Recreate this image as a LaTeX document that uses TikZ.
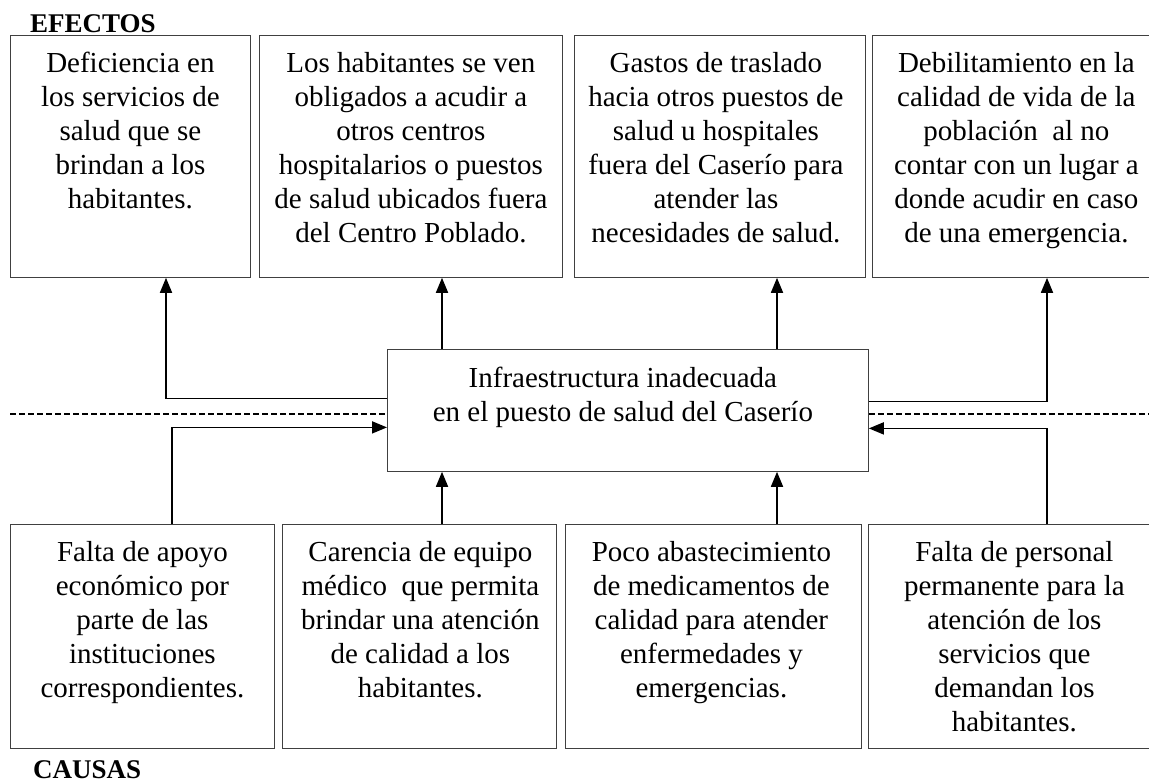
\documentclass[tikz,border=0pt]{standalone}
\usepackage{fontspec}
\setmainfont{Liberation Serif}
\usetikzlibrary{arrows.meta,calc}
\begin{document}
\begin{tikzpicture}[x=1pt,y=-1pt,
  box/.style={draw=black!75,line width=0.8pt,inner sep=0pt,anchor=north west},
  txt/.style={align=center,inner sep=0pt,anchor=north,font=\fontsize{29}{34}\selectfont},
  arr/.style={line width=1.7pt,-{Triangle[width=12pt,length=15pt]}},
  lbl/.style={font=\fontsize{27}{30}\selectfont\bfseries,anchor=base west,inner sep=0pt}]
\useasboundingbox (0,0) rectangle (1149,782);
\clip (0,0) rectangle (1149,782);
% effects boxes
\node[box,minimum width=240,minimum height=242] (e1) at (10,35) {};
\node[box,minimum width=303,minimum height=242] (e2) at (259,35) {};
\node[box,minimum width=291,minimum height=242] (e3) at (574,35) {};
\node[box,minimum width=290,minimum height=242] (e4) at (872,35) {};
\node[txt] (t1) at ([yshift=-17pt]e1.north) {Deficiencia en\\los servicios de\\salud que se\\brindan a los\\habitantes.};
\node[txt] (t2) at ([yshift=-17pt]e2.north) {Los habitantes se ven\\obligados a acudir a\\otros centros\\hospitalarios o puestos\\de salud ubicados fuera\\del Centro Poblado.};
\node[txt] (t3) at ([yshift=-17pt,xshift=-4pt]e3.north) {Gastos de traslado\\hacia otros puestos de\\salud u hospitales\\fuera del Caserío para\\atender las\\necesidades de salud.};
\node[txt] (t4) at ([yshift=-17pt,xshift=-1pt]e4.north) {Debilitamiento en la\\calidad de vida de la\\población\ \ al no\\contar con un lugar a\\donde acudir en caso\\de una emergencia.};
% center
\node[box,minimum width=481,minimum height=122] (c) at (387,349) {};
\node[txt] (tc) at ([yshift=-18pt,xshift=-5pt]c.north) {Infraestructura inadecuada\\en el puesto de salud del Caserío};
% causes boxes
\node[box,minimum width=264,minimum height=224] (k1) at (10,524) {};
\node[box,minimum width=274,minimum height=224] (k2) at (282,524) {};
\node[box,minimum width=296,minimum height=224] (k3) at (565,524) {};
\node[box,minimum width=292,minimum height=224] (k4) at (868,524) {};
\node[txt] (s1) at ([yshift=-17pt]k1.north) {Falta de apoyo\\económico por\\parte de las\\instituciones\\correspondientes.};
\node[txt] (s2) at ([yshift=-17pt,xshift=1pt]k2.north) {Carencia de equipo\\médico\ \ que permita\\brindar una atención\\de calidad a los\\habitantes.};
\node[txt] (s3) at ([yshift=-17pt,xshift=-2pt]k3.north) {Poco abastecimiento\\de medicamentos de\\calidad para atender\\enfermedades y\\emergencias.};
\node[txt] (s4) at ([yshift=-17pt]k4.north) {Falta de personal\\permanente para la\\atención de los\\servicios que\\demandan los\\habitantes.};
% labels
\node[lbl] (ef) at (30,32) {EFECTOS};
\node[lbl] (ca) at (33,778) {CAUSAS};
% dashed divider
\coordinate (dl) at (10,414);
\coordinate (dr) at (1149,414);
\draw[dashed,dash pattern=on 6pt off 3pt,line width=1.3pt] (dl) -- (c.west |- dl);
\draw[dashed,dash pattern=on 6pt off 3pt,line width=1.3pt] (c.east |- dr) -- (dr);
% connector columns
\coordinate (xa) at (166,0);
\coordinate (xb) at (442,0);
\coordinate (xc) at (777,0);
\coordinate (xd) at (1047,0);
\coordinate (xe) at (172,0);
% effects arrows
\draw[arr] ([yshift=12pt]c.west) -| (e1.south -| xa);
\draw[arr] (c.north -| xb) -- (e2.south -| xb);
\draw[arr] (c.north -| xc) -- (e3.south -| xc);
\draw[arr] ([yshift=9pt]c.east) -| (e4.south -| xd);
% causes arrows
\draw[arr] (k1.north -| xe) |- ([yshift=-17pt]c.west);
\draw[arr] (k2.north -| xb) -- (c.south -| xb);
\draw[arr] (k3.north -| xc) -- (c.south -| xc);
\draw[arr] (k4.north -| xd) |- ([yshift=-18pt]c.east);
\end{tikzpicture}
\end{document}
